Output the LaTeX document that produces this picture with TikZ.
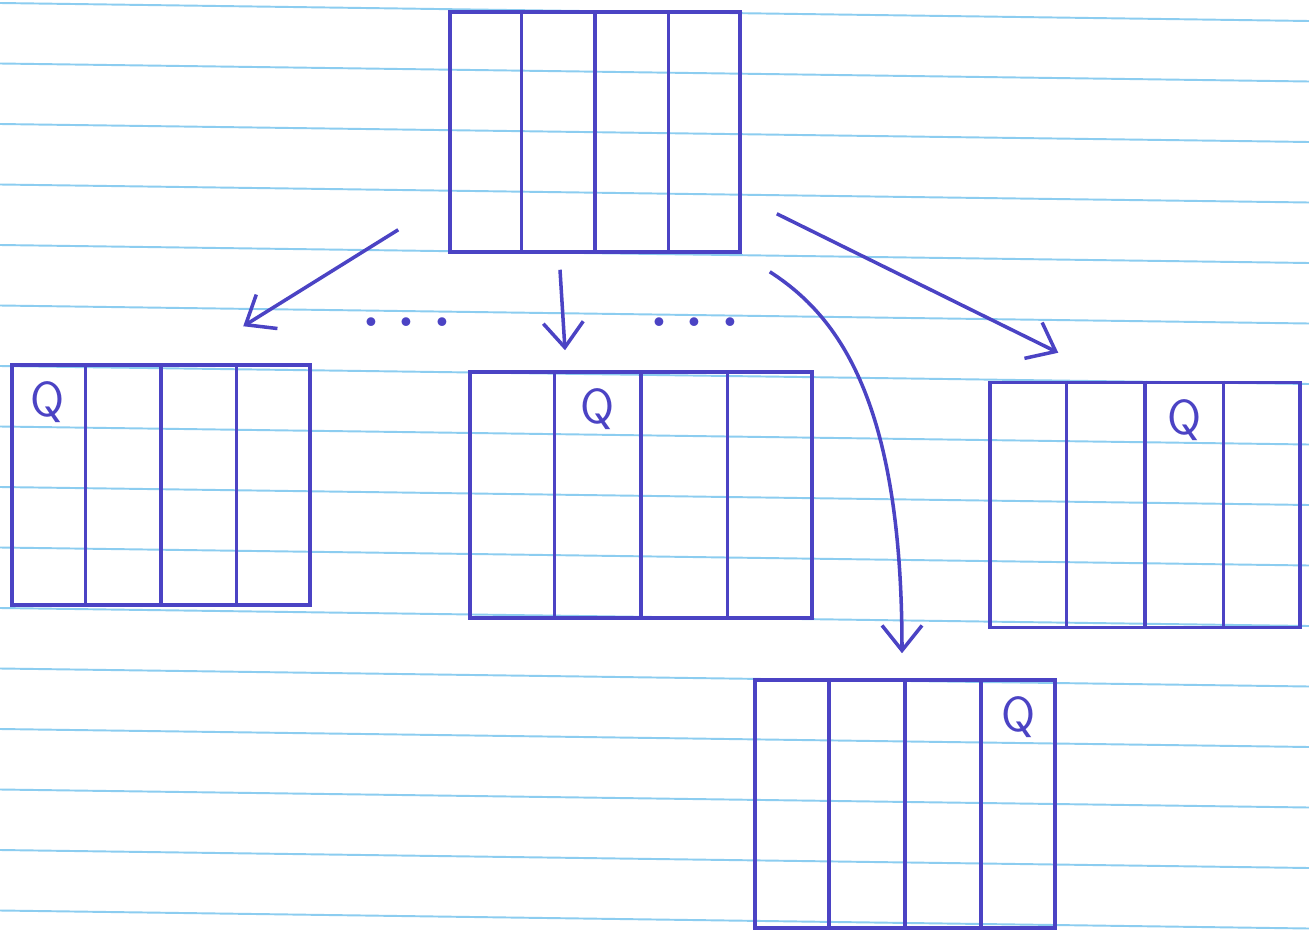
\documentclass[tikz,border=0pt]{standalone}
\usepackage{tikz}
\usetikzlibrary{arrows.meta,positioning,calc}
\definecolor{pen}{HTML}{4B43C4}
\definecolor{ruleC}{HTML}{8CCDF0}
\tikzset{>={Straight Barb[length=5mm,width=8mm]},
  rowbox/.style={draw=pen,line width=2pt,inner sep=0pt},
  paperline/.style={ruleC,line width=1.1pt},
  arr/.style={->,pen,line width=2pt},
  qlab/.style={font=\sffamily\fontsize{28}{30}\selectfont,text=pen,anchor=north,inner sep=0pt},
  gap/.style={font=\bfseries,text=pen,inner sep=0pt,scale=3.2}}
% four columns inside a box
\newcommand{\colsplit}[1]{%
  \foreach \i in {1,2,3}
    \draw[pen,line width=2pt] ($(#1.north west)!\i/4!(#1.north east)$) -- ($(#1.south west)!\i/4!(#1.south east)$);}
% Q in column #2 of box #1
\newcommand{\qmark}[3]{%
  \node[qlab] (#3) at ($($(#1.north west)!{(#2-0.5)/4}!(#1.north east)$)+(0,18)$) {Q};}
\newcommand{\spreaddots}{.\hspace{0.7ex}.\hspace{0.7ex}.}

\begin{document}
\begin{tikzpicture}[x=0.2mm,y=-0.2mm]
\useasboundingbox (0,0) rectangle (1309,935);
\fill[white] (0,0) rectangle (1309,935);
\foreach \k in {0,...,15}
  \draw[paperline] (0,{3+60.5*\k}) -- (1309,{21+60.5*\k});
\node[rowbox,minimum width=58mm,minimum height=48mm] (top) at (595,132) {};
\node[rowbox,minimum width=59.6mm,minimum height=48mm] (boxA) at (161,485) {};
\node[rowbox,minimum width=68.4mm,minimum height=49.2mm] (boxB) at (641,495) {};
\node[rowbox,minimum width=62mm,minimum height=49mm] (boxC) at (1145,505) {};
\node[rowbox,minimum width=60mm,minimum height=49.6mm] (boxD) at (905,804) {};
\colsplit{top}\colsplit{boxA}\colsplit{boxB}\colsplit{boxC}\colsplit{boxD}
\qmark{boxA}{1}{qA}\qmark{boxB}{2}{qB}\qmark{boxC}{3}{qC}\qmark{boxD}{4}{qD}
\draw[arr] ($(top.south west)+(-50,-24)$) -- ($(boxA.north west)+(233,-37)$);
\draw[arr] ($(top.south)+(-35,16)$) -- ($(boxB.north)+(-76,-20)$);
\draw[arr] ($(top.south east)+(35,-40)$) -- ($(boxC.north west)+(70,-28)$);
\draw[arr] ($(top.south east)+(28,18)$) .. controls +(70,45) and +(0,-250) .. ($(boxD.north)+(-3,-25)$);
\node[gap] (dotsL) at (407,322) {\spreaddots};
\node[gap] (dotsR) at (695,322) {\spreaddots};
\end{tikzpicture}
\end{document}
